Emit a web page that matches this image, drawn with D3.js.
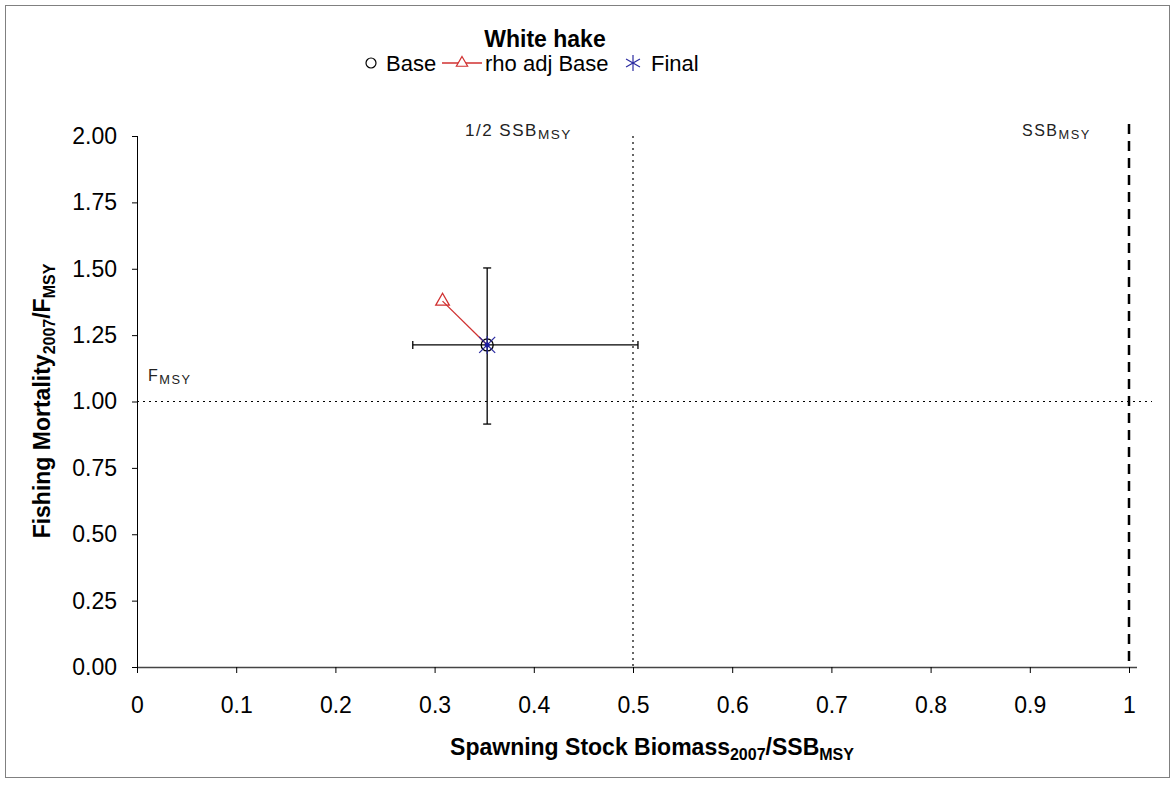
<!DOCTYPE html>
<html>
<head>
<meta charset="utf-8">
<script src="https://cdn.jsdelivr.net/npm/d3@7"></script>
<style>
  body { margin: 0; background: #fff; }
  text { font-family: "Liberation Sans", Arial, sans-serif; }
</style>
</head>
<body>
<svg id="chart" width="1176" height="785"></svg>
<script>
'use strict'

// values
const xTicks = [0, 0.1, 0.2, 0.3, 0.4, 0.5, 0.6, 0.7, 0.8, 0.9, 1]
const yTicks = [0, 0.25, 0.5, 0.75, 1, 1.25, 1.5, 1.75, 2]
const base = { x: 0.353, y: 1.213 }
const rhoAdj = [{ x: 0.308, y: 1.378 }, { x: 0.353, y: 1.213 }]
const finalPt = { x: 0.353, y: 1.213 }
const xErr = [0.278, 0.505]
const yErr = [0.915, 1.503]
const refLines = { fmsy: 1, halfSsb: 0.5, ssb: 1 }

const svg = d3.select('#chart')

svg.append('rect')
  .attr('x', 5.5).attr('y', 5.5)
  .attr('width', 1164).attr('height', 772)
  .attr('fill', '#fff').attr('stroke', '#808080').attr('stroke-width', 1)

const x = d3.scaleLinear().domain([0, 1]).range([137, 1129])
const y = d3.scaleLinear().domain([0, 2]).range([667, 136])

// reference lines
svg.append('line')
  .attr('x1', x(0)).attr('x2', 1152)
  .attr('y1', y(refLines.fmsy)).attr('y2', y(refLines.fmsy))
  .attr('stroke', '#000').attr('stroke-width', 1.2).attr('stroke-dasharray', '2,4')
svg.append('line')
  .attr('x1', x(refLines.halfSsb)).attr('x2', x(refLines.halfSsb))
  .attr('y1', y(2)).attr('y2', y(0))
  .attr('stroke', '#000').attr('stroke-width', 1.2).attr('stroke-dasharray', '2,4')
svg.append('line')
  .attr('x1', x(refLines.ssb)).attr('x2', x(refLines.ssb))
  .attr('y1', y(2) - 12).attr('y2', y(0))
  .attr('stroke', '#000').attr('stroke-width', 2.5).attr('stroke-dasharray', '10,7')

// axes
const xAxis = d3.axisBottom(x).tickValues(xTicks).tickSize(6).tickPadding(24)
  .tickFormat(d => d === 0 || d === 1 ? String(d) : d3.format('.1f')(d))
const gx = svg.append('g').attr('transform', `translate(0,${y(0)})`).call(xAxis)
gx.select('.domain').attr('d', `M${x(0)},0.5H${1137}`).attr('stroke', '#444').attr('stroke-width', 1.5)

const yAxis = d3.axisLeft(y).tickValues(yTicks).tickSize(5).tickPadding(15)
  .tickFormat(d3.format('.2f'))
const gy = svg.append('g').attr('transform', `translate(${x(0)},0)`).call(yAxis)
gy.select('.domain').attr('d', `M0.5,${y(2)}V${y(0)}`).attr('stroke', '#000')

svg.selectAll('.tick text').attr('font-size', 23).attr('fill', '#000')
  .attr('font-family', '"Liberation Sans", Arial, sans-serif')
svg.selectAll('.tick line').attr('stroke', '#000')

// error bars
const ebar = svg.append('g').attr('stroke', '#000').attr('stroke-width', 1.3)
ebar.append('line')
  .attr('x1', x(xErr[0])).attr('x2', x(xErr[1]))
  .attr('y1', y(base.y)).attr('y2', y(base.y))
xErr.forEach(v => {
  ebar.append('line').attr('x1', x(v)).attr('x2', x(v))
    .attr('y1', y(base.y) - 4).attr('y2', y(base.y) + 4)
})
ebar.append('line')
  .attr('x1', x(base.x)).attr('x2', x(base.x))
  .attr('y1', y(yErr[0])).attr('y2', y(yErr[1]))
yErr.forEach(v => {
  ebar.append('line').attr('x1', x(base.x) - 4).attr('x2', x(base.x) + 4)
    .attr('y1', y(v)).attr('y2', y(v))
})

// rho adjusted line + triangle
const line = d3.line().x(d => x(d.x)).y(d => y(d.y))
svg.append('path').datum(rhoAdj).attr('d', line)
  .attr('fill', 'none').attr('stroke', '#d03030').attr('stroke-width', 1.3)
const tri = d3.symbol().type(d3.symbolTriangle).size(80)
svg.append('path').attr('d', tri())
  .attr('transform', `translate(${x(rhoAdj[0].x)},${y(rhoAdj[0].y)})`)
  .attr('fill', 'none').attr('stroke', '#d03030').attr('stroke-width', 1.3)

// base circle
svg.append('circle').attr('cx', x(base.x)).attr('cy', y(base.y)).attr('r', 6)
  .attr('fill', 'none').attr('stroke', '#000').attr('stroke-width', 1.3)

// final asterisk
function asterisk (g, cx, cy, r, color) {
  const a = g.append('g').attr('transform', `translate(${cx},${cy})`)
    .attr('stroke', color).attr('stroke-width', 1.2)
  a.append('line').attr('x1', 0).attr('x2', 0).attr('y1', -r).attr('y2', r)
  a.append('line').attr('x1', -r * 0.87).attr('x2', r * 0.87).attr('y1', -r * 0.5).attr('y2', r * 0.5)
  a.append('line').attr('x1', -r * 0.87).attr('x2', r * 0.87).attr('y1', r * 0.5).attr('y2', -r * 0.5)
  return a
}
const fx = x(finalPt.x)
const fy = y(finalPt.y)
const fa = svg.append('g').attr('stroke', '#2a2aa0').attr('stroke-width', 1.2)
fa.append('line').attr('x1', fx - 8).attr('x2', fx + 8).attr('y1', fy - 8).attr('y2', fy + 8)
fa.append('line').attr('x1', fx - 8).attr('x2', fx + 8).attr('y1', fy + 8).attr('y2', fy - 8)
fa.append('line').attr('x1', fx).attr('x2', fx).attr('y1', fy - 9).attr('y2', fy + 9)
svg.append('circle').attr('cx', fx).attr('cy', fy).attr('r', 2.5).attr('fill', '#1a1aa0')

// reference labels
function subLabel (tx, ty, main, sub, size) {
  const t = svg.append('text').attr('x', tx).attr('y', ty).attr('font-size', size)
    .attr('fill', '#222').attr('letter-spacing', 1.5)
  t.append('tspan').text(main)
  t.append('tspan').attr('dy', 3).attr('font-size', size * 0.8).text(sub)
  return t
}
subLabel(465, 136, '1/2 SSB', 'MSY', 17)
subLabel(1022, 136, 'SSB', 'MSY', 16)
subLabel(148, 381, 'F', 'MSY', 16)

// title & legend
svg.append('text').attr('x', 545).attr('y', 47).attr('text-anchor', 'middle')
  .attr('font-size', 23).attr('font-weight', 'bold').text('White hake')

const ly = 63
svg.append('circle').attr('cx', 371).attr('cy', ly).attr('r', 5)
  .attr('fill', 'none').attr('stroke', '#000').attr('stroke-width', 1.2)
svg.append('text').attr('x', 386).attr('y', ly + 8).attr('font-size', 22).text('Base')
svg.append('line').attr('x1', 442).attr('x2', 482).attr('y1', ly).attr('y2', ly)
  .attr('stroke', '#d03030').attr('stroke-width', 1.3)
svg.append('path').attr('d', d3.symbol().type(d3.symbolTriangle).size(55)())
  .attr('transform', `translate(462,${ly})`)
  .attr('fill', '#fff').attr('stroke', '#d03030').attr('stroke-width', 1.2)
svg.append('text').attr('x', 485).attr('y', ly + 8).attr('font-size', 22).text('rho adj Base')
asterisk(svg, 633, ly, 8, '#2a2aa0')
svg.append('text').attr('x', 651).attr('y', ly + 8).attr('font-size', 22).text('Final')

// axis titles
const xt = svg.append('text').attr('x', 652).attr('y', 755).attr('text-anchor', 'middle')
  .attr('font-size', 23).attr('font-weight', 'bold')
xt.append('tspan').text('Spawning Stock Biomass')
xt.append('tspan').attr('dy', 5).attr('font-size', 16).text('2007')
xt.append('tspan').attr('dy', -5).text('/SSB')
xt.append('tspan').attr('dy', 5).attr('font-size', 16).text('MSY')

const yt = svg.append('text').attr('transform', 'translate(50,401) rotate(-90)')
  .attr('text-anchor', 'middle').attr('font-size', 23).attr('font-weight', 'bold')
yt.append('tspan').text('Fishing Mortality')
yt.append('tspan').attr('dy', 5).attr('font-size', 16).text('2007')
yt.append('tspan').attr('dy', -5).text('/F')
yt.append('tspan').attr('dy', 5).attr('font-size', 16).text('MSY')
</script>
</body>
</html>
